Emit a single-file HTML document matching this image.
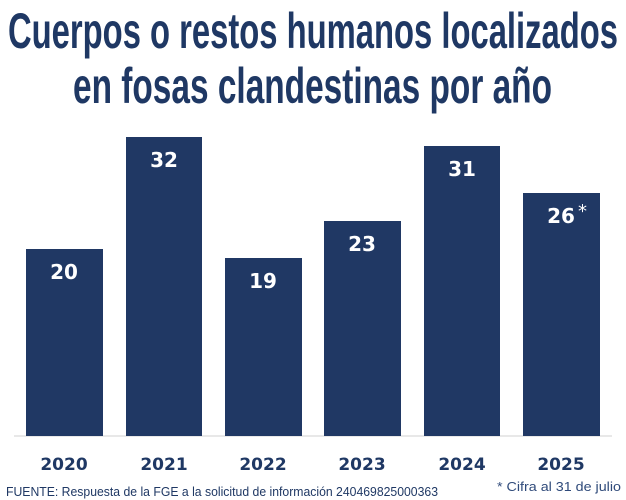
<!DOCTYPE html>
<html><head><meta charset="utf-8"><style>
html,body{margin:0;padding:0;background:#fff;width:626px;height:500px;overflow:hidden}
</style></head><body>
<svg width="626" height="500" xmlns="http://www.w3.org/2000/svg" style="display:block">
<g fill="#1f3864" font-family="'Liberation Sans Narrow','Liberation Sans',sans-serif" font-weight="bold" font-size="50">
<text x="8" y="48" textLength="610" lengthAdjust="spacingAndGlyphs">Cuerpos o restos humanos localizados</text>
<text x="73" y="103" textLength="479" lengthAdjust="spacingAndGlyphs">en fosas clandestinas por año</text>
</g>
<line x1="14" y1="436" x2="612" y2="436" stroke="#d0d0d0" stroke-width="1"/>
<g fill="#203864">
<rect x="26" y="249" width="77" height="187"/>
<rect x="126" y="137" width="76" height="299"/>
<rect x="225" y="258" width="77" height="178"/>
<rect x="324" y="221" width="77" height="215"/>
<rect x="424" y="146" width="76" height="290"/>
<rect x="523" y="193" width="77" height="243"/>
</g>
<g fill="#fff" font-family="'DejaVu Sans','Liberation Sans',sans-serif" font-weight="bold" font-size="20" text-anchor="middle">
<text x="64" y="279">20</text>
<text x="164" y="167">32</text>
<text x="263" y="288">19</text>
<text x="362" y="251">23</text>
<text x="462" y="176">31</text>
<text x="561" y="223">26</text>
</g>
<text x="578" y="217" fill="#fff" font-family="'DejaVu Sans',sans-serif" font-size="18">*</text>
<g fill="#1f3864" font-family="'DejaVu Sans','Liberation Sans',sans-serif" font-weight="bold" font-size="17" text-anchor="middle">
<text x="64" y="470">2020</text>
<text x="164" y="470">2021</text>
<text x="263" y="470">2022</text>
<text x="362" y="470">2023</text>
<text x="462" y="470">2024</text>
<text x="561" y="470">2025</text>
</g>
<text x="6" y="496" fill="#1f3864" font-family="'Liberation Sans Narrow','Liberation Sans',sans-serif" font-size="13" textLength="432" lengthAdjust="spacingAndGlyphs">FUENTE: Respuesta de la FGE a la solicitud de información 240469825000363</text>
<text x="497" y="491" fill="#2f4a7a" font-family="'Liberation Sans Narrow','Liberation Sans',sans-serif" font-size="13" textLength="124" lengthAdjust="spacingAndGlyphs">* Cifra al 31 de julio</text>
</svg>
</body></html>
